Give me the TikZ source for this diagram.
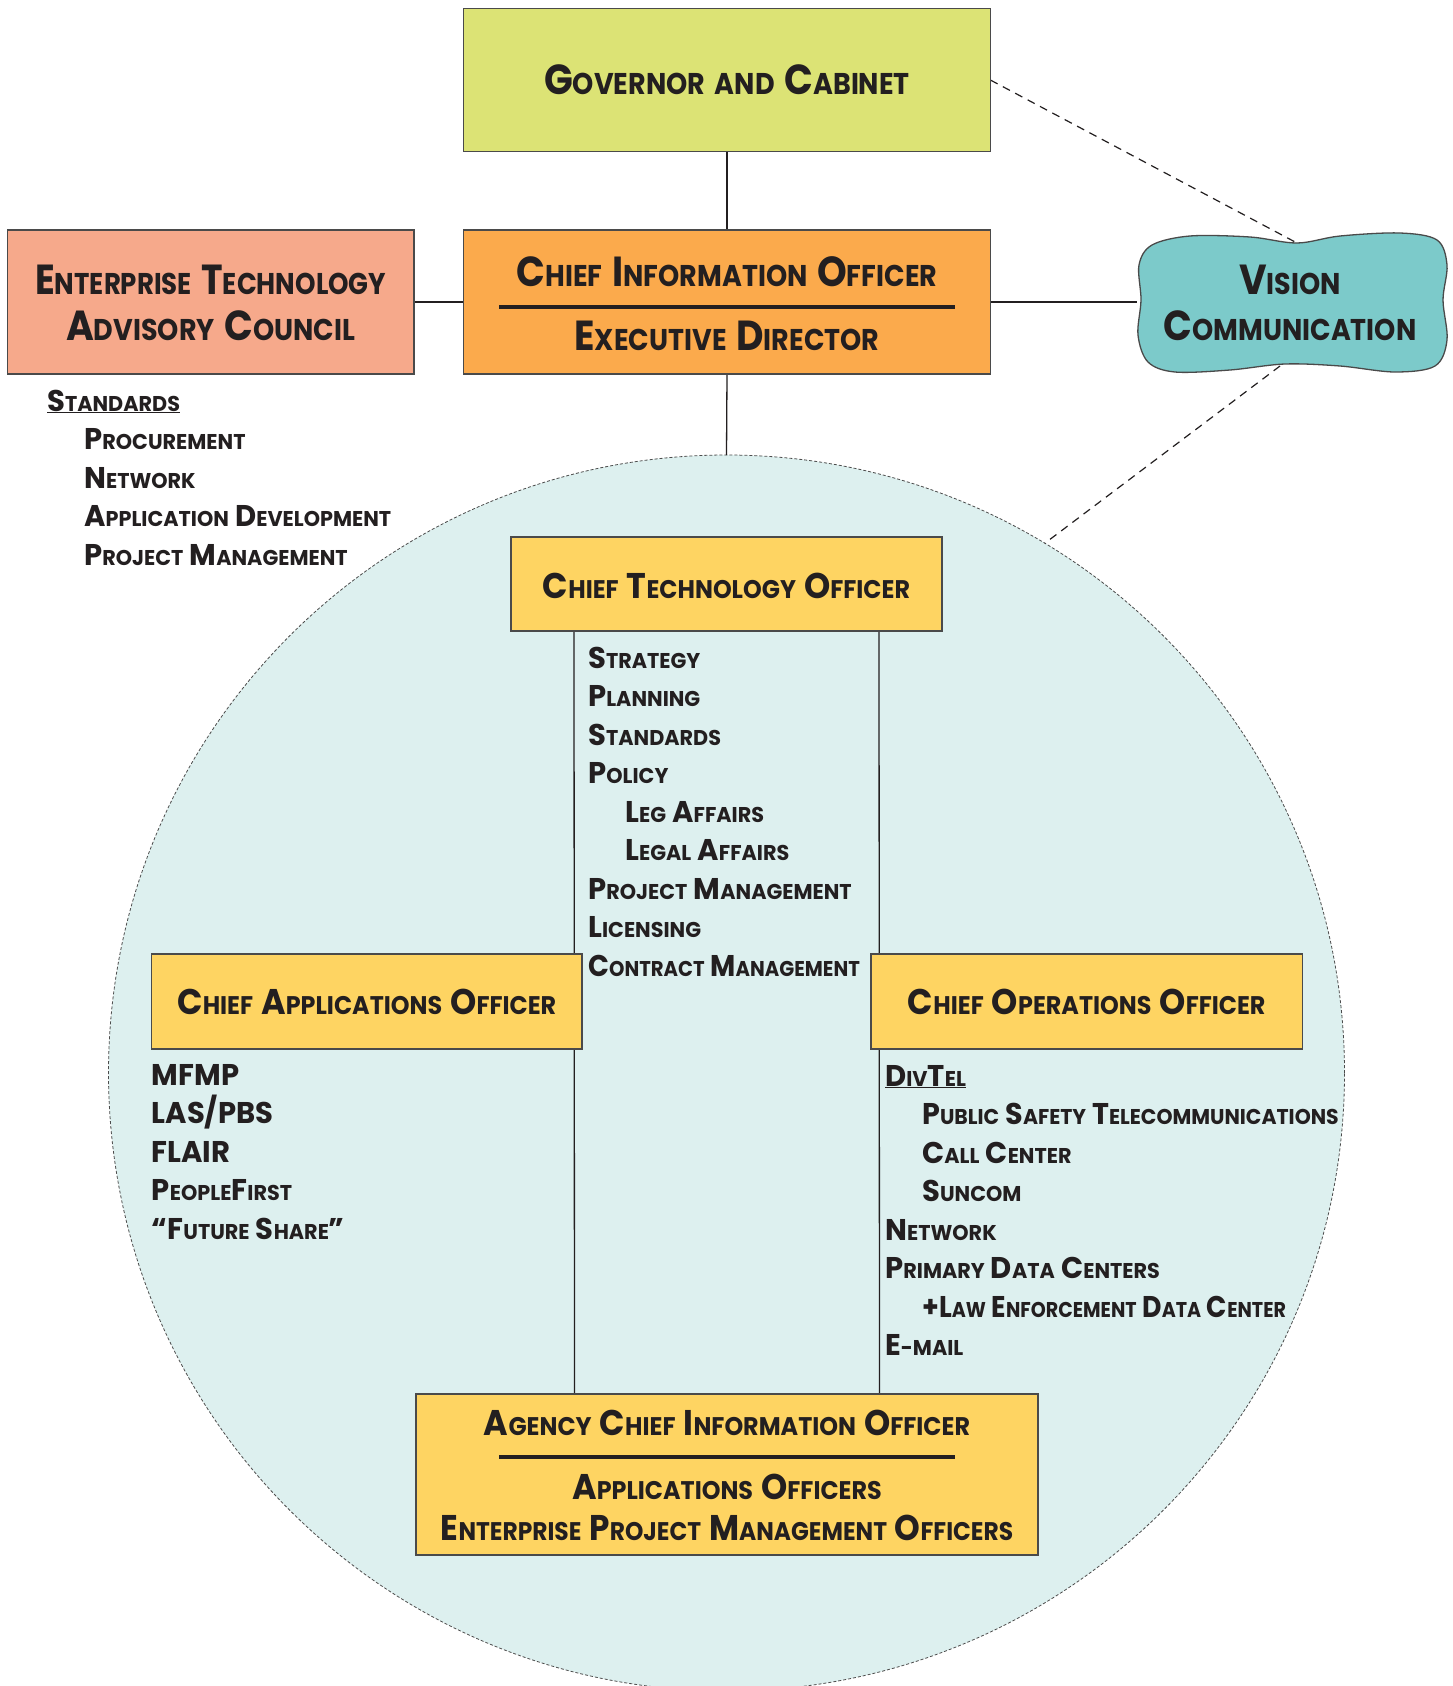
\documentclass[tikz,border=0pt]{standalone}
\usepackage{fontspec}
\setmainfont{Poppins Bold}[FakeStretch=0.97, WordSpace=1.4]
\newfontfamily\fbig{Poppins Bold}[FakeStretch=0.90, WordSpace=1.7]
\newfontfamily\fmid{Poppins Bold}[FakeStretch=0.935, WordSpace=1.6]
\usetikzlibrary{calc}
\pgfdeclarelayer{back}
\pgfdeclarelayer{mid}
\pgfsetlayers{back,mid,main}

% fake small caps: initial capitals are scaled up
\newcommand\Lc[1]{\scalebox{1.4}{#1}}
% a line set a little narrower
\newcommand\Nar[2]{\scalebox{#1}[1]{#2}}

\definecolor{govfill}{HTML}{DCE375}
\definecolor{ciofill}{HTML}{FBAA4C}
\definecolor{etacfill}{HTML}{F6A98B}
\definecolor{visfill}{HTML}{7CCACA}
\definecolor{offfill}{HTML}{FED462}
\definecolor{ringfill}{HTML}{DDF0EF}
\definecolor{ink}{HTML}{231F20}
\definecolor{edge}{HTML}{4A4A4A}

\tikzset{
  box/.style={draw=edge, line width=1.3pt, inner sep=0pt, outer sep=0pt},
  bigtxt/.style={font=\fbig\fontsize{30pt}{30pt}\selectfont, text=ink, inner sep=0pt, anchor=base},
  midtxt/.style={font=\fmid\fontsize{25.5pt}{25.5pt}\selectfont, text=ink, inner sep=0pt, anchor=base},
  % multi-line lists: the base anchor sits on the last line
  listtxt/.style={font=\fontsize{21.4pt}{38.5pt}\selectfont, text=ink, inner sep=0pt, align=left, anchor=base west},
  link/.style={draw=ink, line width=1.3pt},
  dashlink/.style={draw=ink, line width=1.2pt, dash pattern=on 8pt off 6pt},
  thickrule/.style={draw=ink, line width=4pt},
}

\begin{document}
\begin{tikzpicture}[x=1pt, y=-1pt]
\useasboundingbox (0,0) rectangle (1453,1686);

% background and the big circle
\begin{pgfonlayer}{back}
  \fill[white] (0,0) rectangle (1453,1686);
  \node[circle, fill=ringfill, draw=black!70, line width=0.8pt, dash pattern=on 3pt off 2pt,
        minimum size=1236pt, inner sep=0pt, outer sep=0pt] (ring) at (726.5,1073) {};
\end{pgfonlayer}

% top row
\node[box, fill=govfill, minimum width=527pt, minimum height=143pt] (gov) at (727,80.1) {};
\node[box, fill=ciofill, minimum width=527pt, minimum height=144pt] (cio) at (727,302) {};
\node[box, fill=etacfill, minimum width=406.5pt, minimum height=144pt] (etac) at (210.75,302) {};
\node[minimum width=310pt, minimum height=140pt, inner sep=0pt, outer sep=0pt] (vision) at (1292,302) {};

% cloud outline of the vision node
\draw[fill=visfill, draw=edge, line width=1.3pt]
  plot[smooth cycle, tension=0.55] coordinates {
    (1141,300) (1139,265) (1152,245) (1190,236) (1250,237) (1297,243) (1340,236)
    (1400,233) (1437,240) (1447,265) (1443,300) (1447,340) (1435,366) (1395,372)
    (1340,366) (1285,364) (1230,370) (1175,372) (1148,362) (1138,335)};
\coordinate (vtop) at (1297,243);
\coordinate (vbot) at (1280,366);

% officers inside the circle
\node[box, fill=offfill, minimum width=431pt, minimum height=94pt] (cto) at (726.5,584) {};
\node[box, fill=offfill, minimum width=430.4pt, minimum height=95pt] (cao) at (366.8,1001.5) {};
\node[box, fill=offfill, minimum width=431.5pt, minimum height=95pt] (coo) at (1086.75,1001.5) {};
\node[box, fill=offfill, minimum width=622pt, minimum height=161pt] (acio) at (727,1474.5) {};

% connectors
\begin{pgfonlayer}{mid}
  \draw[link] (gov.south) -- (cio.north);
  \draw[link] (etac.east) -- (cio.west);
  \draw[link] (cio.east) -- (vision.west);
  \draw[link] (cio.south) -- (ring.north);
  \draw[link] ([xshift=-152.5pt]cto.south) -- ([xshift=-152.5pt]acio.north);
  \draw[link] ([xshift=152.5pt]cto.south) -- ([xshift=152.5pt]acio.north);
  \draw[dashlink] (gov.east) -- (vtop);
  \draw[dashlink] (vbot) -- (ring.59.25);
\end{pgfonlayer}

% titles
\node[bigtxt] (govt) at (727,95) {\Lc{G}OVERNOR AND \Lc{C}ABINET};
\node[bigtxt] (ciot1) at (727,286) {\Lc{C}HIEF \Lc{I}NFORMATION \Lc{O}FFICER};
\node[bigtxt] (ciot2) at (727,350) {\Lc{E}XECUTIVE \Lc{D}IRECTOR};
\draw[thickrule] (499,306.5) -- (955,306.5);
\node[bigtxt] (etact1) at (210.75,294) {\Nar{0.965}{\Lc{E}NTERPRISE \Lc{T}ECHNOLOGY}};
\node[bigtxt] (etact2) at (210.75,340) {\Lc{A}DVISORY \Lc{C}OUNCIL};
\node[bigtxt] (vist1) at (1290,294) {\Lc{V}ISION};
\node[bigtxt] (vist2) at (1290,340) {\Lc{C}OMMUNICATION};

\node[midtxt] (ctot) at (726.5,598) {\Lc{C}HIEF \Lc{T}ECHNOLOGY \Lc{O}FFICER};
\node[midtxt] (caot) at (366.8,1014.5) {\Lc{C}HIEF \Lc{A}PPLICATIONS \Lc{O}FFICER};
\node[midtxt] (coot) at (1086.75,1014.5) {\Lc{C}HIEF \Lc{O}PERATIONS \Lc{O}FFICER};
\node[midtxt] (aciot1) at (727,1435) {\Lc{A}GENCY \Lc{C}HIEF \Lc{I}NFORMATION \Lc{O}FFICER};
\draw[thickrule] (499,1456.6) -- (955,1456.6);
\node[midtxt] (aciot2) at (727,1499) {\Lc{A}PPLICATIONS \Lc{O}FFICERS};
\node[midtxt] (aciot3) at (727,1540) {\Nar{0.98}{\Lc{E}NTERPRISE \Lc{P}ROJECT \Lc{M}ANAGEMENT \Lc{O}FFICERS}};

% lists
\node[listtxt] (stdlist) at (47,565) {\underline{\Lc{S}TANDARDS}\\
  \hspace*{37pt}\Lc{P}ROCUREMENT\\
  \hspace*{37pt}\Lc{N}ETWORK\\
  \hspace*{37pt}\Lc{A}PPLICATION \Lc{D}EVELOPMENT\\
  \hspace*{37pt}\Lc{P}ROJECT \Lc{M}ANAGEMENT};

\node[listtxt] (ctolist) at (588,976) {\Lc{S}TRATEGY\\
  \Lc{P}LANNING\\
  \Lc{S}TANDARDS\\
  \Lc{P}OLICY\\
  \hspace*{37pt}\Lc{L}EG \Lc{A}FFAIRS\\
  \hspace*{37pt}\Lc{L}EGAL \Lc{A}FFAIRS\\
  \Lc{P}ROJECT \Lc{M}ANAGEMENT\\
  \Lc{L}ICENSING\\
  \Nar{0.945}{\Lc{C}ONTRACT \Lc{M}ANAGEMENT}};

\node[listtxt] (caolist) at (151.6,1239) {\Lc{MFMP}\\
  \Lc{LAS/PBS}\\
  \Lc{FLAIR}\\
  \Lc{P}EOPLE\Lc{F}IRST\\
  \Lc{“F}UTURE \Lc{S}HARE\Lc{”}};

\node[listtxt] (coolist) at (885,1355.5) {\underline{\Lc{D}IV\Lc{T}EL}\\
  \hspace*{37pt}\Nar{0.985}{\Lc{P}UBLIC \Lc{S}AFETY \Lc{T}ELECOMMUNICATIONS}\\
  \hspace*{37pt}\Lc{C}ALL \Lc{C}ENTER\\
  \hspace*{37pt}\Lc{S}UNCOM\\
  \Lc{N}ETWORK\\
  \Lc{P}RIMARY \Lc{D}ATA \Lc{C}ENTERS\\
  \hspace*{37pt}\Nar{0.92}{\Lc{+L}AW \Lc{E}NFORCEMENT \Lc{D}ATA \Lc{C}ENTER}\\
  \Lc{E}-MAIL};
\end{tikzpicture}
\end{document}
